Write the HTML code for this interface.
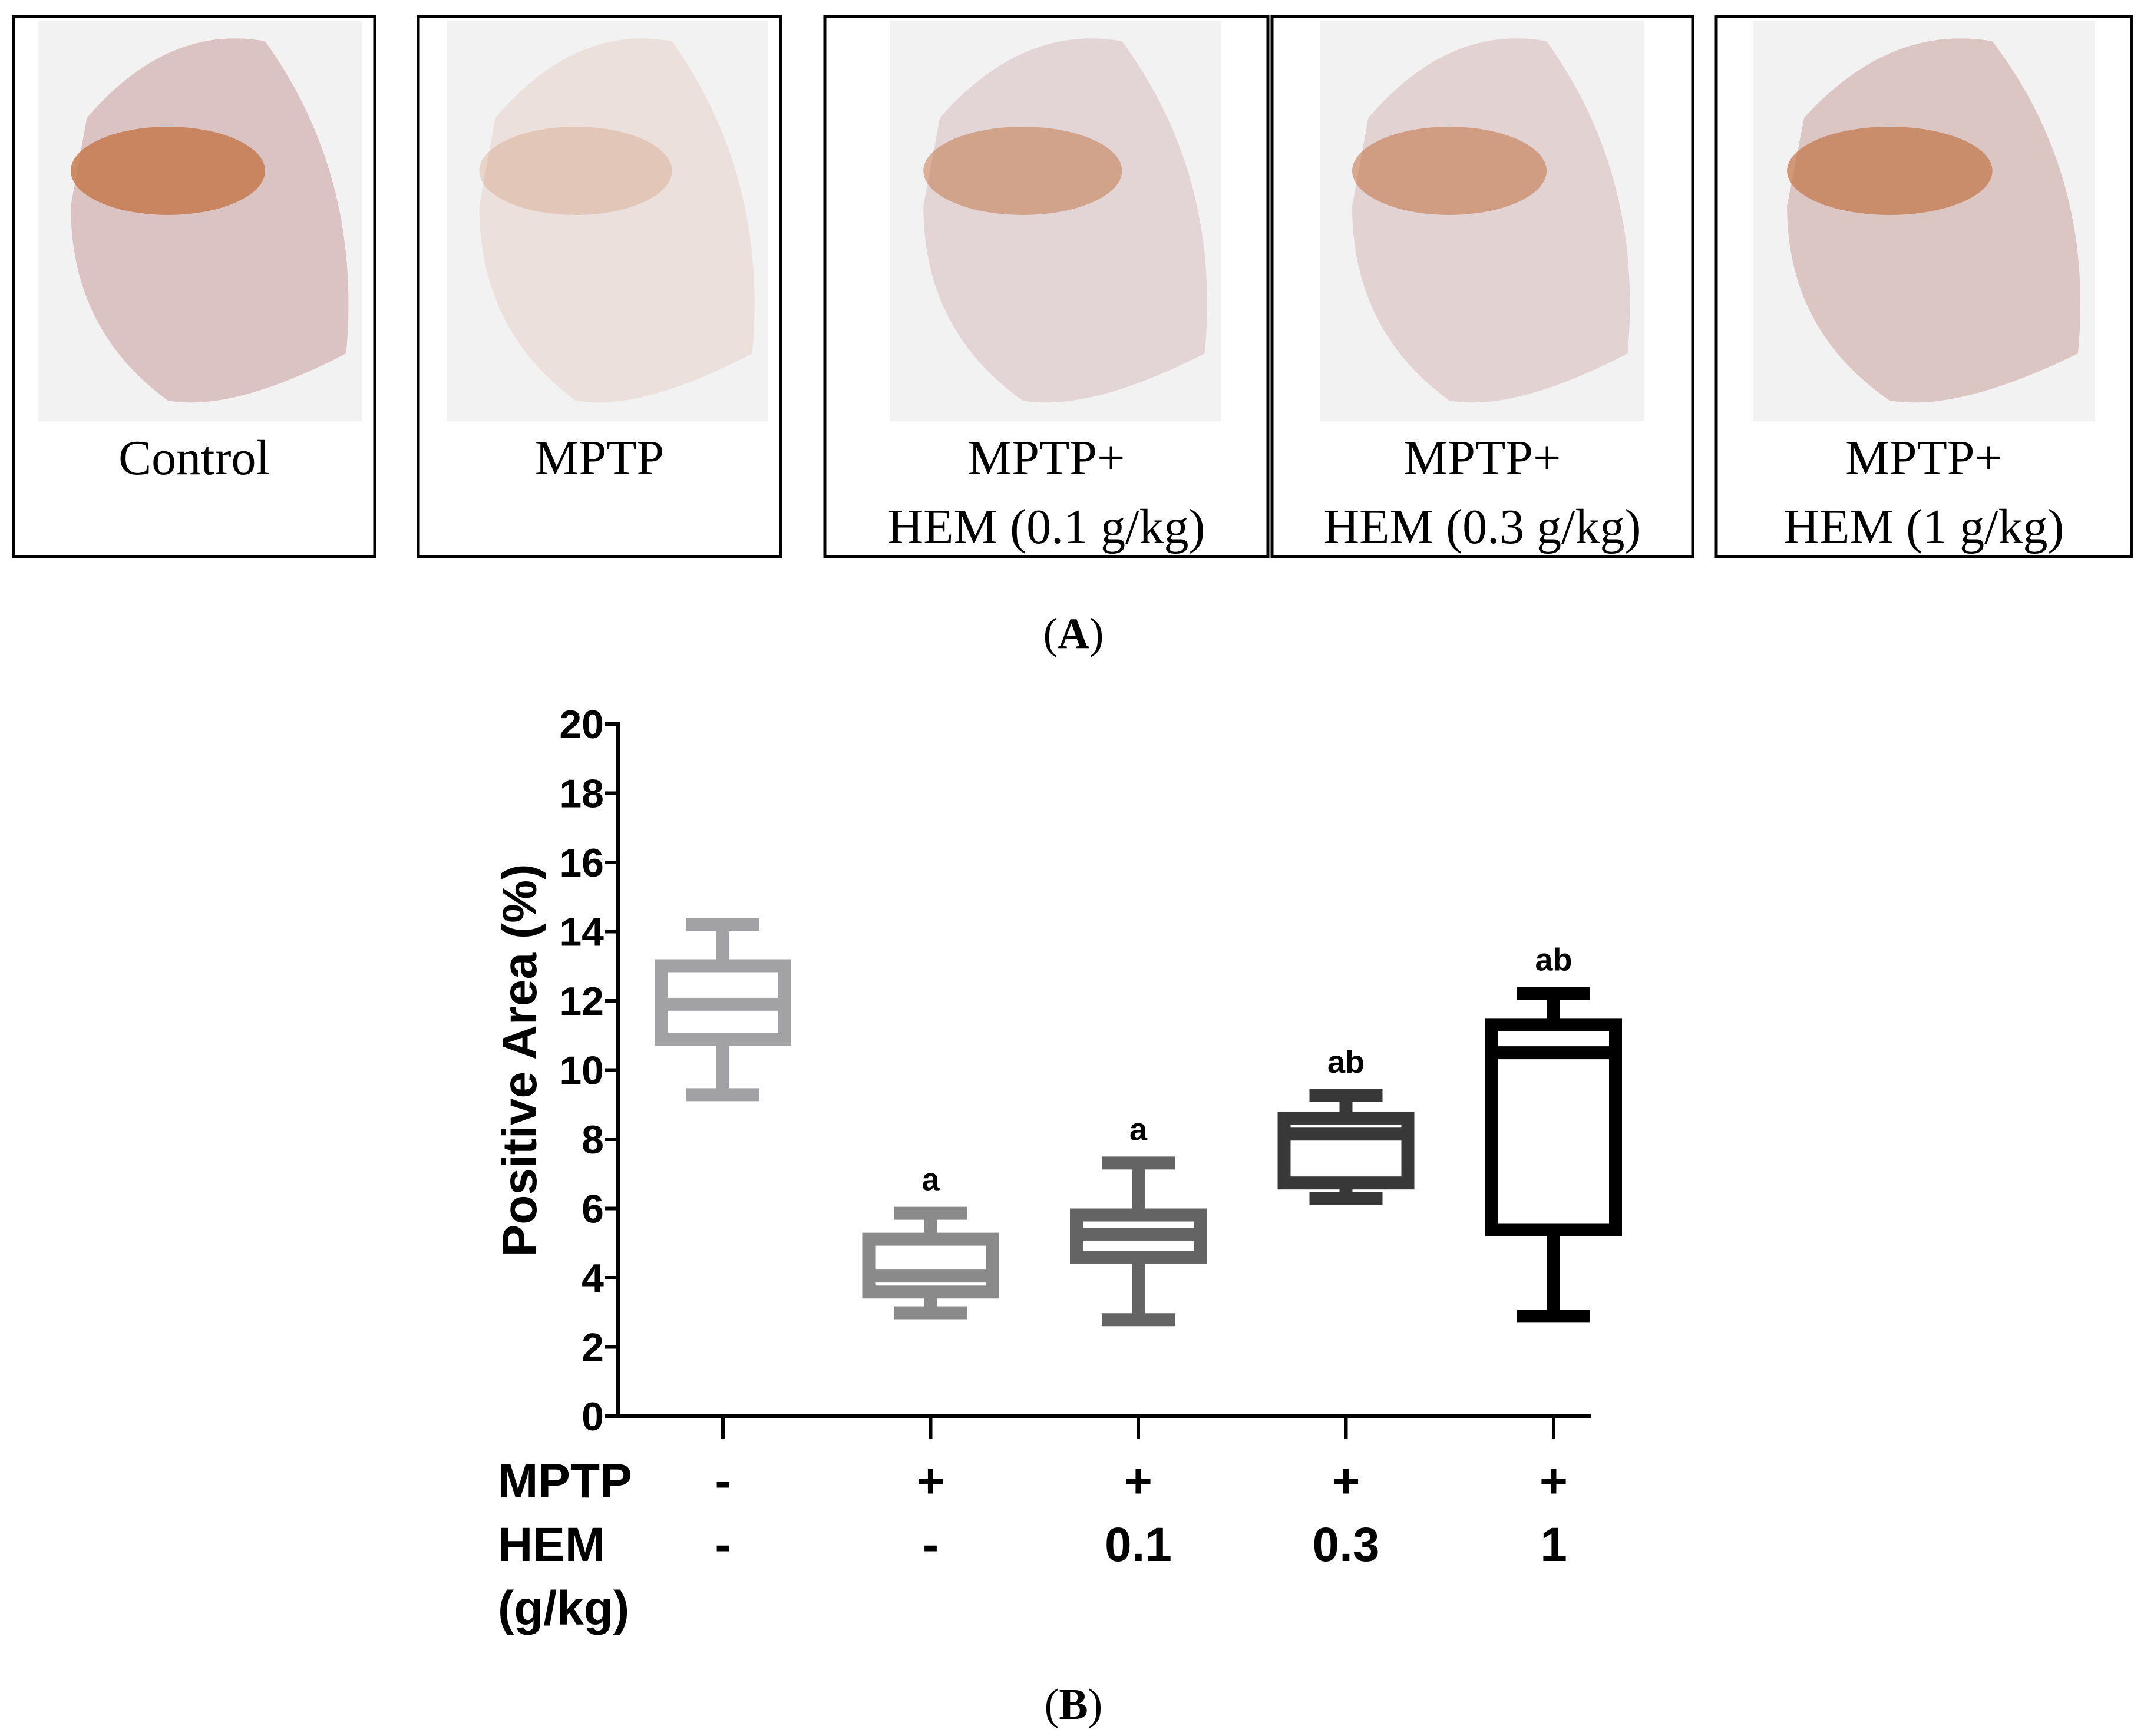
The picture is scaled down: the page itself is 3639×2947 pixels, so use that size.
<!DOCTYPE html>
<html><head><meta charset="utf-8">
<style>
html,body{margin:0;padding:0;background:#fff;}
svg{display:block;}
.ser{font-family:"Liberation Serif",serif;}
.sans{font-family:"Liberation Sans",sans-serif;font-weight:bold;}
.nar{font-family:"Liberation Sans Narrow","Liberation Sans",sans-serif;font-weight:bold;}
</style></head>
<body>
<svg id="fig" width="3639" height="2947" viewBox="0 0 3639 2947" xmlns="http://www.w3.org/2000/svg">
<g id="panelA"></g>
<text class="ser" x="1822" y="1100" font-size="74" text-anchor="middle">(<tspan font-weight="bold">A</tspan>)</text>
<g id="chart"></g>
<text class="ser" x="1822" y="2918" font-size="74" text-anchor="middle">(<tspan font-weight="bold">B</tspan>)</text>
</svg>
<script>
// ----- chart data -----
const groups = ["Control","MPTP","MPTP+HEM 0.1","MPTP+HEM 0.3","MPTP+HEM 1"];
const whiskerHigh = [14.4, 6.05, 7.5, 9.45, 12.4];
const boxTop = [13.2, 5.3, 6.0, 8.8, 11.5];
const medians = [11.9, 4.05, 5.25, 8.15, 10.5];
const boxBottom = [10.7, 3.4, 4.4, 6.55, 5.2];
const whiskerLow = [9.1, 2.8, 2.6, 6.1, 2.7];
const sigLabels = ["", "a", "a", "ab", "ab"];
const mptpRow = ["-", "+", "+", "+", "+"];
const hemRow = ["-", "-", "0.1", "0.3", "1"];
const yTicks = [0,2,4,6,8,10,12,14,16,18,20];
const boxColors = ["#a2a2a4","#8a8a8a","#646464","#383838","#000000"];

const NS = "http://www.w3.org/2000/svg";
function mk(tag, attrs, parent, txt){
  const e = document.createElementNS(NS, tag);
  for (const k in attrs) e.setAttribute(k, attrs[k]);
  if (txt !== undefined) e.textContent = txt;
  parent.appendChild(e);
  return e;
}
const chart = document.getElementById("chart");
const X0 = 1049, Y0 = 2404, YTOP = 1229, XEND = 2700;
const yScale = v => Y0 - (v / 20) * (Y0 - YTOP);
const xScale = i => 1227 + i * 352.5;

let ax = mk("line", {x1:X0, y1:YTOP-4, x2:X0, y2:Y0+4, stroke:"#000","stroke-width":7}, chart);


let xa = mk("line", {x1:X0-4, y1:Y0, x2:XEND, y2:Y0, stroke:"#000","stroke-width":7}, chart);



yTicks.forEach(t => {
  const y = yScale(t);
  const tk = mk("line", {x1:X0-22, y1:y, x2:X0, y2:y, stroke:"#000","stroke-width":6}, chart);
  
  
  const lb = mk("text", {x:1025, y:y+24, "font-size":68, "text-anchor":"end", class:"nar"}, chart, String(t));
  
  
});

const yt = mk("text", {x:0, y:0, "font-size":82, "text-anchor":"middle", class:"sans", transform:"translate(910,1800) rotate(-90)"}, chart, "Positive Area (%)");



const BW = 232, CW = 124, SW = 22;
groups.forEach((g, i) => {
  const cx = xScale(i), col = boxColors[i];
  const grp = mk("g", {}, chart);
  
  
  const xt = mk("line", {x1:cx, y1:Y0, x2:cx, y2:Y0+38, stroke:"#000","stroke-width":6}, grp);
  
  
  const yH = yScale(whiskerHigh[i]) + SW/2, yL = yScale(whiskerLow[i]) - SW/2;
  const yT = yScale(boxTop[i]) + SW/2, yB = yScale(boxBottom[i]) - SW/2;
  const w1 = mk("line", {x1:cx, y1:yH, x2:cx, y2:yT, stroke:col, "stroke-width":SW}, grp);
  
  
  const w2 = mk("line", {x1:cx, y1:yB, x2:cx, y2:yL, stroke:col, "stroke-width":SW}, grp);
  
  
  const c1 = mk("line", {x1:cx-CW/2, y1:yH, x2:cx+CW/2, y2:yH, stroke:col, "stroke-width":SW}, grp);
  
  
  const c2 = mk("line", {x1:cx-CW/2, y1:yL, x2:cx+CW/2, y2:yL, stroke:col, "stroke-width":SW}, grp);
  
  
  const bx = mk("rect", {x:cx-BW/2+SW/2, y:yT, width:BW-SW, height:yB-yT, fill:"#fff", stroke:col, "stroke-width":SW}, grp);
  
  
  const ym = yScale(medians[i]);
  const md = mk("line", {x1:cx-BW/2+SW/2, y1:ym, x2:cx+BW/2-SW/2, y2:ym, stroke:col, "stroke-width":SW}, grp);
  
  
  if (sigLabels[i]) {
    const s = mk("text", {x:cx, y:yScale(whiskerHigh[i]) - 28, "font-size":54, "text-anchor":"middle", class:"nar"}, grp, sigLabels[i]);
    
    
  }
  const m = mk("text", {x:cx, y:2542, "font-size":82, "text-anchor":"middle", class:"sans"}, grp, mptpRow[i]);
  
  
  const h = mk("text", {x:cx, y:2650, "font-size":82, "text-anchor":"middle", class:"sans"}, grp, hemRow[i]);
  
  
});
const rl1 = mk("text", {x:845, y:2542, "font-size":82, class:"sans"}, chart, "MPTP");


const rl2 = mk("text", {x:845, y:2650, "font-size":82, class:"sans"}, chart, "HEM");


const rl3 = mk("text", {x:845, y:2758, "font-size":82, class:"sans"}, chart, "(g/kg)");



// ----- panel A -----
const pA = document.getElementById("panelA");
const boxes = [[23,636],[710,1325],[1400,2152],[2159,2873],[2913,3618]];
const imgs = [[65,615],[759,1304],[1511,2073],[2240,2790],[2975,3556]];
const line1 = ["Control","MPTP","MPTP+","MPTP+","MPTP+"];
const line2 = ["","","HEM (0.1 g/kg)","HEM (0.3 g/kg)","HEM (1 g/kg)"];
const stain = [0.85,0.25,0.55,0.6,0.75];
const tissue = ["#dcc3c3","#ece0dc","#e3d5d5","#e2d2d2","#dcc6c4"];
boxes.forEach((b, i) => {
  const g = mk("g", {}, pA);
  
  
  const r = mk("rect", {x:b[0], y:28, width:b[1]-b[0], height:917, fill:"#fff", stroke:"#000", "stroke-width":5}, g);
  
  
  const im = imgs[i], w = im[1]-im[0];
  const bg = mk("rect", {x:im[0], y:35, width:w, height:680, fill:"#f3f2f2"}, g);
  
  
  const br = mk("path", {d:`M${im[0]+w*0.15},${200} Q${im[0]+w*0.4},${40} ${im[0]+w*0.7},${70} Q${im[0]+w*1.0},${300} ${im[0]+w*0.95},${600} Q${im[0]+w*0.6},${700} ${im[0]+w*0.4},${680} Q${im[0]+w*0.1},${560} ${im[0]+w*0.1},${350} Z`, fill:tissue[i]}, g);
  
  
  const st = mk("ellipse", {cx:im[0]+w*0.4, cy:290, rx:w*0.3, ry:75, fill:"#c47a4e", opacity:stain[i]}, g);
  
  
  const cx = (b[0]+b[1])/2;
  const t1 = mk("text", {x:cx, y:805, "font-size":84, "text-anchor":"middle", class:"ser"}, g, line1[i]);
  
  
  if (line2[i]) {
    const t2 = mk("text", {x:cx, y:922, "font-size":84, "text-anchor":"middle", class:"ser"}, g, line2[i]);
    
    
  }
});
</script>
</body></html>
